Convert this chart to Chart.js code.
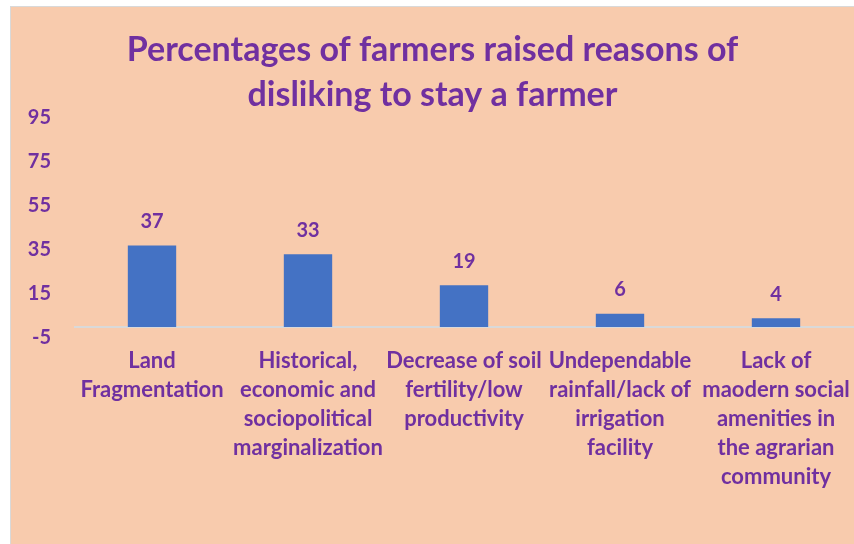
<!DOCTYPE html>
<html>
<head>
<meta charset="utf-8">
<script src="https://cdn.jsdelivr.net/npm/chart.js@4"></script>
<style>
  body { margin: 0; background: #fff; }
  .frame {
    position: absolute; left: 10px; top: 6px;
    width: 843px; height: 537px;
    border-left: 1px solid #d9d9d9; border-top: 1px solid #d9d9d9;
    background: #f8cbad;
  }
  canvas { display: block; }
</style>
</head>
<body>
<div class="frame"><canvas id="myChart" width="843" height="537"></canvas></div>
<script>
const categories = [
  ["Land", "Fragmentation"],
  ["Historical,", "economic and", "sociopolitical", "marginalization"],
  ["Decrease of soil", "fertility/low", "productivity"],
  ["Undependable", "rainfall/lack of", "irrigation", "facility"],
  ["Lack of", "maodern social", "amenities in", "the agrarian", "community"],
];
const percentages = [37, 33, 19, 6, 4];
const yMin = -5, yMax = 95, yStep = 20;

const purple = "#7030A0";
const fontFamily = "Lato, 'Open Sans', sans-serif";

// gray line at zero, plus value labels above the bars
const extras = {
  id: "extras",
  beforeDatasetsDraw(chart) {
    const { ctx, chartArea, scales } = chart;
    const y0 = scales.y.getPixelForValue(0);
    ctx.save();
    ctx.strokeStyle = "#d9d9d9";
    ctx.lineWidth = 2;
    ctx.beginPath();
    ctx.moveTo(chartArea.left, y0);
    ctx.lineTo(chartArea.right, y0);
    ctx.stroke();
    ctx.restore();
  },
  afterDatasetsDraw(chart) {
    const { ctx } = chart;
    const meta = chart.getDatasetMeta(0);
    ctx.save();
    ctx.fillStyle = purple;
    ctx.font = "bold 20px " + fontFamily;
    ctx.textAlign = "center";
    ctx.textBaseline = "middle";
    meta.data.forEach((bar, i) => {
      ctx.fillText(percentages[i], bar.x, bar.y - 24);
    });
    ctx.restore();
  },
};

new Chart(document.getElementById("myChart"), {
  type: "bar",
  data: {
    labels: categories,
    datasets: [
      {
        data: percentages,
        backgroundColor: "#4472c4",
        barPercentage: 0.31,
        categoryPercentage: 1,
      },
    ],
  },
  options: {
    responsive: false,
    animation: false,
    layout: { padding: 0 },
    plugins: {
      legend: { display: false },
      tooltip: { enabled: false },
      title: {
        display: true,
        text: ["Percentages of farmers raised reasons of", "disliking to stay a farmer"],
        color: purple,
        font: { family: fontFamily, size: 34, weight: "bold", lineHeight: 1.32 },
        padding: { top: 21, bottom: 0 },
      },
    },
    scales: {
      x: {
        grid: { display: false },
        border: { display: false },
        ticks: {
          color: purple,
          font: { family: fontFamily, size: 22, weight: "bold", lineHeight: 1.32 },
          maxRotation: 0,
          autoSkip: false,
          padding: 0,
        },
        afterFit(scale) { scale.height = 206; },
      },
      y: {
        min: yMin,
        max: yMax,
        grid: { display: false },
        border: { display: false },
        ticks: {
          stepSize: yStep,
          color: purple,
          font: { family: fontFamily, size: 20, weight: "bold" },
          padding: 15,
        },
        afterFit(scale) { scale.width = 63; },
      },
    },
  },
  plugins: [extras],
});
</script>
</body>
</html>
